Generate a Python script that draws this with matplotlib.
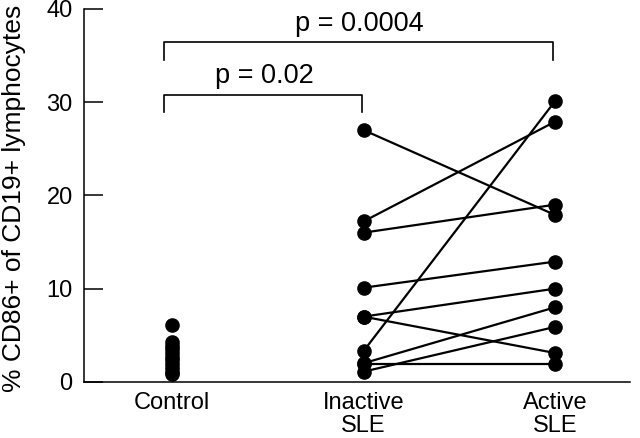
import matplotlib.pyplot as plt

plt.rcParams['font.family'] = ['Liberation Sans', 'DejaVu Sans']

# group labels and values
groups = ["Control", "Inactive\nSLE", "Active\nSLE"]
control = [6.1, 4.3, 3.9, 3.5, 3.1, 2.7, 2.3, 1.9, 1.5, 1.1, 0.8]
inactive = [27.0, 17.2, 16.0, 10.1, 7.0, 7.0, 3.3, 2.0, 1.1, 1.9]
active = [17.9, 27.9, 19.0, 12.9, 10.0, 3.1, 30.1, 8.0, 5.9, 1.9]

# significance brackets: (left group, right group, bar level, text)
brackets = [(0, 2, 36.4, "p = 0.0004"), (0, 1, 30.8, "p = 0.02")]

fig = plt.figure(figsize=(6.4, 4.38), dpi=100)
ax = fig.add_axes([0.131, 0.128, 0.853, 0.852])

# paired patients: a line from inactive to active
for a, b in zip(inactive, active):
    ax.plot([1, 2], [a, b], color='black', lw=1.6, marker='o', ms=9.5,
            mfc='black', mec='black', zorder=2)

ax.plot([0] * len(control), control, 'o', color='black', ms=9.5, zorder=3)

for x0, x1, y, label in brackets:
    drop = 1.9
    ax.plot([x0 - 0.04, x0 - 0.04, x1 - 0.01, x1 - 0.01],
            [y - drop, y, y, y - drop], color='black', lw=1.2, clip_on=False)
    ax.text((x0 - 0.04 + x1) / 2, y + 0.6, label, ha='center', va='bottom',
            fontsize=19.5)

ax.set_xlim(-0.46, 2.39)
ax.set_ylim(0, 40)
ax.set_yticks([0, 10, 20, 30, 40])
ax.set_xticks([0, 1, 2])
ax.set_xticklabels(groups, linespacing=1.1)
ax.set_ylabel("% CD86+ of CD19+ lymphocytes", fontsize=19)
ax.yaxis.set_label_coords(-0.106, 0.493)

for side in ['top', 'right']:
    ax.spines[side].set_visible(False)
for side in ['left', 'bottom']:
    ax.spines[side].set_linewidth(1.1)

ax.tick_params(axis='y', direction='in', length=14, width=1.1, pad=8,
               labelsize=17)
ax.tick_params(axis='x', length=0, pad=7, labelsize=17)

fig.savefig("out.png", dpi=100)
